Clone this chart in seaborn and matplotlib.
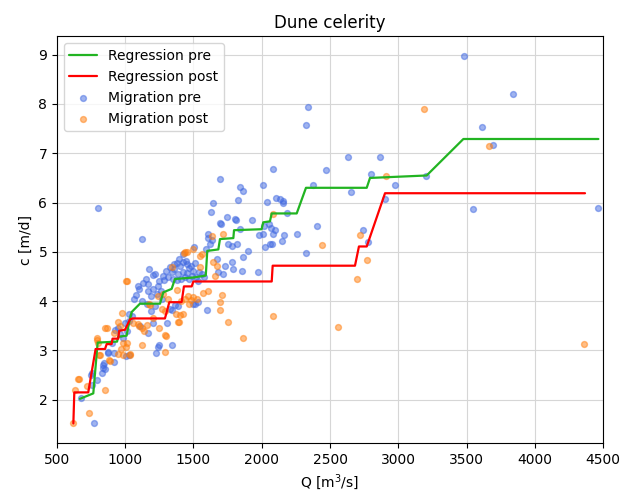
import numpy as np
import pandas as pd
import matplotlib
matplotlib.use("Agg")
import matplotlib.pyplot as plt
import seaborn as sns

# ---------------- data ----------------
pre_q = [3480, 3843, 3616, 3697, 3550, 4466, 2341, 2324, 2630, 2866, 2468, 2800, 2373, 2654, 2978, 3203,
         2903, 2402, 2744, 2776, 2324, 803, 1694, 2080, 1841, 1865, 2011, 1645, 1824, 2036, 2104, 2134,
         2153, 2158, 1628, 1743, 1694, 1700, 1804, 1810, 1926, 1841, 2187, 2097, 2065, 2016, 2055, 1982,
         2007, 2085, 2256, 2163, 2146, 2073, 2060, 2024, 1865, 1902, 1780, 1792, 1731, 1682, 1716, 1609,
         1633, 1780, 1755, 1819, 1975, 1853, 1670, 1609, 1120, 1176, 1205, 1420, 1506, 1445,
         1377, 1400, 1420, 1450, 1480, 1511, 1340, 1360, 1390, 1420, 1455, 1490, 1520, 1540, 1310, 1350,
         1380, 1410, 1440, 1470, 1530, 1560, 1330, 1300, 1395,
         1218, 1279, 1284, 1132, 1169, 1079, 1065, 1169, 1200, 1240, 1260, 1190, 1230, 1100, 1150, 1250,
         1090, 1270, 1120, 1160, 1215,
         1511, 1499, 1530, 1596, 1365, 1390, 1303, 1205, 1105, 1330, 1345, 1190, 1250, 1340, 1242, 1225,
         1164, 1030, 1030, 1050, 925, 962, 985, 918, 876, 1005, 1030, 871, 920, 835, 840, 830, 845, 850,
         795, 747, 759, 754, 676, 773, 900, 950, 1000, 1010, 1590, 1620, 1580, 1355, 1465, 1500]
pre_c = [8.97, 8.20, 7.53, 7.17, 5.86, 5.90, 7.93, 7.58, 6.92, 6.92, 6.67, 6.58, 6.36, 6.22, 6.36, 6.54,
         6.07, 5.53, 5.44, 5.21, 4.98, 5.89, 6.48, 6.69, 6.31, 6.23, 6.35, 6.00, 6.05, 6.02, 6.10, 6.07,
         6.03, 5.99, 5.81, 5.71, 5.58, 5.57, 5.66, 5.64, 5.64, 5.46, 5.78, 5.45, 5.48, 5.53, 5.57, 5.35,
         5.36, 5.36, 5.36, 5.34, 5.23, 5.16, 5.15, 5.09, 4.90, 5.01, 4.79, 4.66, 4.72, 4.59, 4.56, 5.28,
         5.25, 5.12, 5.16, 5.15, 4.59, 4.62, 4.86, 5.36, 5.27, 4.65, 4.54, 4.96, 5.10, 4.82,
         4.78, 4.72, 4.80, 4.75, 4.72, 4.77, 4.60, 4.65, 4.55, 4.60, 4.58, 4.52, 4.50, 4.60, 4.50, 4.45,
         4.42, 4.45, 4.50, 4.45, 4.40, 4.55, 4.70, 4.62, 4.85,
         4.55, 4.52, 4.42, 4.36, 4.35, 4.12, 4.05, 4.20, 4.25, 4.30, 4.20, 4.10, 4.15, 4.25, 4.45, 4.40,
         4.30, 4.05, 4.00, 3.95, 3.90,
         3.95, 3.95, 3.98, 3.82, 3.92, 3.90, 3.55, 3.55, 3.50, 3.85, 3.82, 3.80, 3.11, 3.11, 3.07, 2.94,
         3.36, 3.75, 3.60, 3.70, 3.41, 3.34, 3.25, 2.95, 2.97, 2.89, 2.91, 2.95, 2.77, 2.65, 2.70, 2.55, 2.75, 2.62,
         2.40, 2.50, 2.54, 2.30, 2.03, 1.52, 3.15, 3.45, 3.55, 3.40, 5.05, 5.15, 4.50, 4.75, 4.68, 4.62]

post_q = [3189, 3665, 2908, 2439, 2720, 2769, 2696, 2561, 4361, 2080, 2080, 1860, 1750, 1694, 1694, 1711,
          1572, 1604, 1718, 1633, 1560, 1548, 1658, 1645, 1670, 1450, 1430, 1499, 1438, 1548, 1340, 1005,
          1010, 1440, 1460, 1480, 1500, 1525, 1470, 1410, 1372, 1425, 1396, 1389, 1400,
          1291, 1299, 1250, 1205, 1090, 1100, 1120, 1140, 1160, 1054, 1175, 1180, 1270, 1290, 1120, 1291,
          1035, 1035, 986, 1010, 966, 1006, 986, 949, 888, 884, 815, 810, 798, 790, 790, 852, 864, 918,
          949, 960, 973, 852, 717, 661, 656, 632, 734, 620, 1240, 1280, 1310, 1377]
post_c = [7.89, 7.15, 6.54, 5.14, 5.34, 4.84, 4.45, 3.47, 3.14, 5.76, 3.69, 3.26, 3.58, 3.82, 3.98, 4.13,
          4.17, 4.20, 5.36, 5.33, 4.96, 4.69, 4.52, 4.79, 4.72, 5.00, 4.98, 5.06, 4.99, 4.92, 4.69, 4.40,
          4.40, 4.05, 4.10, 4.02, 4.08, 4.05, 3.95, 4.00, 3.75, 3.75, 3.58, 3.58, 3.72,
          3.31, 3.29, 3.45, 3.65, 3.54, 3.50, 3.45, 3.40, 3.52, 3.56, 3.95, 3.92, 3.85, 3.80, 3.12, 2.96,
          2.91, 2.92, 3.16, 3.15, 3.04, 3.08, 2.91, 2.93, 2.79, 2.81, 2.91, 2.91, 3.15, 3.21, 3.25, 3.45, 3.46, 3.35,
          3.58, 3.50, 3.76, 2.19, 2.28, 2.42, 2.42, 2.19, 1.73, 1.52, 4.10, 4.15, 4.05, 4.22]

reg_pre_q = [668, 766, 798, 940, 949, 1010, 1022, 1047, 1108, 1255, 1279, 1340, 1364, 1498, 1590, 1601,
             1682, 1694, 1792, 1797, 1999, 2011, 2060, 2073, 2256, 2324, 2769, 2793, 3208, 3477, 4466]
reg_pre_c = [2.02, 2.13, 3.16, 3.18, 3.28, 3.30, 3.48, 3.78, 3.95, 3.95, 4.18, 4.25, 4.45, 4.48, 4.52, 5.02,
             5.05, 5.26, 5.28, 5.44, 5.46, 5.60, 5.62, 5.78, 5.78, 6.30, 6.30, 6.50, 6.55, 7.29, 7.29]

reg_post_q = [620, 627, 729, 783, 852, 864, 900, 907, 949, 956, 998, 1035, 1054, 1291, 1323, 1413, 1430,
              1487, 1499, 2073, 2080, 2683, 2712, 2769, 2903, 4368]
reg_post_c = [1.52, 2.15, 2.15, 3.03, 3.03, 3.13, 3.13, 3.24, 3.24, 3.40, 3.42, 3.63, 3.65, 3.65, 3.98, 3.98,
              4.30, 4.30, 4.40, 4.40, 4.72, 4.72, 5.11, 5.11, 6.19, 6.19]

title = "Dune celerity"
x_label = "Q [m$^3$/s]"
y_label = "c [m/d]"

# ---------------- plot ----------------
sns.set_style("ticks", {"axes.grid": True, "grid.color": "#d6d6d6", "axes.edgecolor": "black",
                        "xtick.color": "black", "ytick.color": "black", "text.color": "black",
                        "axes.labelcolor": "black"})
plt.rcParams['font.family'] = ['DejaVu Sans']

fig, ax = plt.subplots(figsize=(6.22, 4.96), dpi=100)
fig.subplots_adjust(left=0.0916, right=0.9695, top=0.927, bottom=0.107)

df_pre = pd.DataFrame({"Q": pre_q, "c": pre_c})
df_post = pd.DataFrame({"Q": post_q, "c": post_c})
df_rpre = pd.DataFrame({"Q": reg_pre_q, "c": reg_pre_c})
df_rpost = pd.DataFrame({"Q": reg_post_q, "c": reg_post_c})

sns.scatterplot(data=df_pre, x="Q", y="c", ax=ax, color="royalblue", alpha=0.5, s=18,
                edgecolor="royalblue", linewidth=1, label="Migration pre", zorder=2)
sns.scatterplot(data=df_post, x="Q", y="c", ax=ax, color="tab:orange", alpha=0.5, s=18,
                edgecolor="tab:orange", linewidth=1, label="Migration post", zorder=2)
sns.lineplot(data=df_rpre, x="Q", y="c", ax=ax, sort=False, estimator=None, color="#22b422",
             linewidth=1.6, label="Regression pre", zorder=3)
sns.lineplot(data=df_rpost, x="Q", y="c", ax=ax, sort=False, estimator=None, color="red",
             linewidth=1.6, label="Regression post", zorder=3)

ax.set_xlim(500, 4500)
ax.set_ylim(1.125, 9.375)
ax.set_xticks([500, 1000, 1500, 2000, 2500, 3000, 3500, 4000, 4500])
ax.set_yticks([2, 3, 4, 5, 6, 7, 8, 9])
ax.set_title(title, fontsize=12)
ax.set_xlabel(x_label, fontsize=10)
ax.set_ylabel(y_label, fontsize=10)
ax.tick_params(labelsize=10)
for s in ax.spines.values():
    s.set_visible(True)
    s.set_color("black")

handles, labels = ax.get_legend_handles_labels()
order = ["Regression pre", "Regression post", "Migration pre", "Migration post"]
hl = dict(zip(labels, handles))
ax.legend([hl[o] for o in order], order, loc="upper left", fontsize=10, frameon=True)

fig.savefig("out.png", dpi=100)
